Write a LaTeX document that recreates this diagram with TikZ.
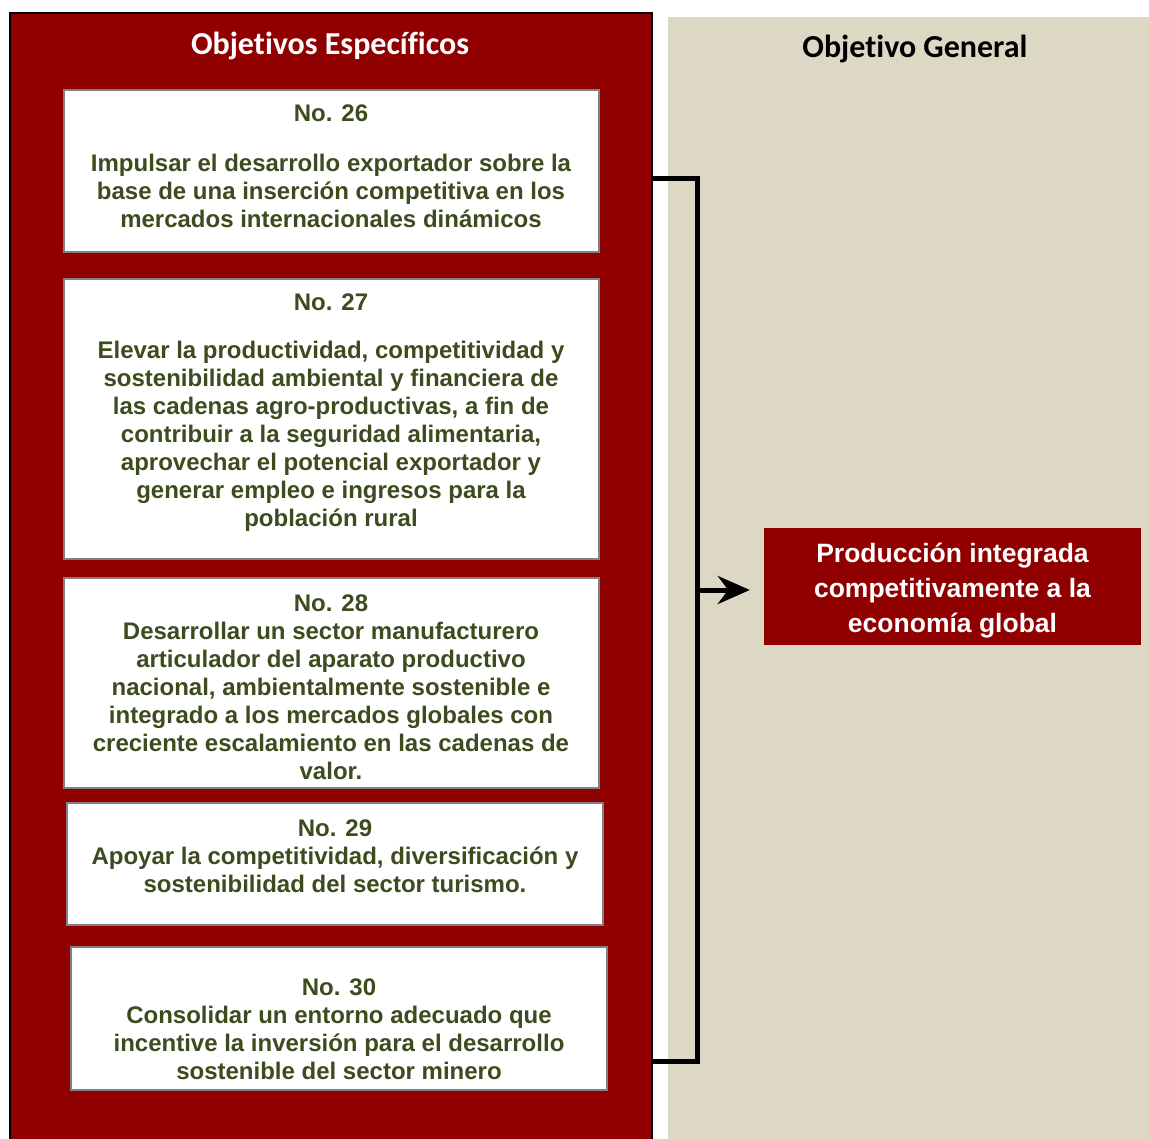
\documentclass[tikz,border=0pt]{standalone}
\usepackage{fontspec}
\setmainfont{Liberation Sans}
\newfontfamily\calib[Ligatures=NoCommon]{Carlito}
\usetikzlibrary{arrows.meta}
\definecolor{rojo}{RGB}{144,0,0}
\definecolor{beige}{RGB}{221,216,195}
\definecolor{verde}{RGB}{60,76,30}
\definecolor{borde}{RGB}{130,130,130}
\tikzset{
	panel/.style={draw=black,line width=1.5pt,inner sep=0pt},
	objbox/.style={draw=borde,fill=white,line width=2pt,inner sep=0pt,minimum width=535pt},
	objtext/.style={text=verde,align=center,inner sep=0pt,font=\fontsize{24}{28}\selectfont\bfseries},
	goalbox/.style={fill=rojo,inner sep=0pt,minimum width=377pt,minimum height=117pt},
	goaltext/.style={text=white,align=center,inner sep=0pt,font=\fontsize{26.5}{35}\selectfont\bfseries},
	titulo/.style={font=\calib\fontsize{32}{36}\selectfont\bfseries,inner sep=0pt}
}
\begin{document}
\begin{tikzpicture}[x=1pt,y=-1pt]
	\useasboundingbox (0,0) rectangle (1149,1139);
	\clip (0,0) rectangle (1149,1139);
	\fill[white] (0,0) rectangle (1149,1139);
	% paneles
	\node[panel,fill=rojo,minimum width=642pt,minimum height=1136pt] (spec) at (331,581) {};
	\node[inner sep=0pt,fill=beige,minimum width=481pt,minimum height=1130pt] (gen) at (908.5,582) {};
	\node[titulo,text=white] (tspec) at (330,46) {Objetivos Específicos};
	\node[titulo,text=black] (tgen) at (915,49) {Objetivo General};
	% objetivos especificos
	\node[objbox,minimum height=162pt] (n26) at (331.5,171) {};
	\node[objbox,minimum height=280pt] (n27) at (331.5,419) {};
	\node[objbox,minimum height=210pt] (n28) at (331.5,683) {};
	\node[objbox,minimum width=536pt,minimum height=122pt] (n29) at (335,864) {};
	\node[objbox,minimum width=536pt,minimum height=143pt] (n30) at (339,1018.5) {};
	\node[objtext] (t26) at (331,166) {No. 26\\[22pt]
		Impulsar el desarrollo exportador sobre la\\
		base de una inserción competitiva en los\\
		mercados internacionales dinámicos};
	\node[objtext] (t27) at (331,413) {No. 27\\[20pt]
		Elevar la productividad, competitividad y\\
		sostenibilidad ambiental y financiera de\\
		las cadenas agro-productivas, a fin de\\
		contribuir a la seguridad alimentaria,\\
		aprovechar el potencial exportador y\\
		generar empleo e ingresos para la\\
		población rural};
	\node[objtext] (t28) at (331,687) {No. 28\\
		Desarrollar un sector manufacturero\\
		articulador del aparato productivo\\
		nacional, ambientalmente sostenible e\\
		integrado a los mercados globales con\\
		creciente escalamiento en las cadenas de\\
		valor.};
	\node[objtext] (t29) at (335,856) {No. 29\\
		Apoyar la competitividad, diversificación y\\
		sostenibilidad del sector turismo.};
	\node[objtext] (t30) at (339,1029) {No. 30\\
		Consolidar un entorno adecuado que\\
		incentive la inversión para el desarrollo\\
		sostenible del sector minero};
	% objetivo general
	\node[goalbox] (goal) at (952.5,586.5) {};
	\node[goaltext] (tgoal) at (952.5,590.5) {Producción integrada\\
		competitivamente a la\\
		economía global};
	\coordinate (c26) at (spec.east |- 0,179);
	\coordinate (c30) at (spec.east |- 0,1061);
	\draw[line width=5pt] (c26) -- ++(45,0) coordinate (top) -- (top |- c30) -- (c30);
	\draw[line width=5pt,-{Stealth[length=32pt,width=28pt]},shorten >=14pt] (top |- 0,590) -- (goal.west |- 0,590);
\end{tikzpicture}
\end{document}
